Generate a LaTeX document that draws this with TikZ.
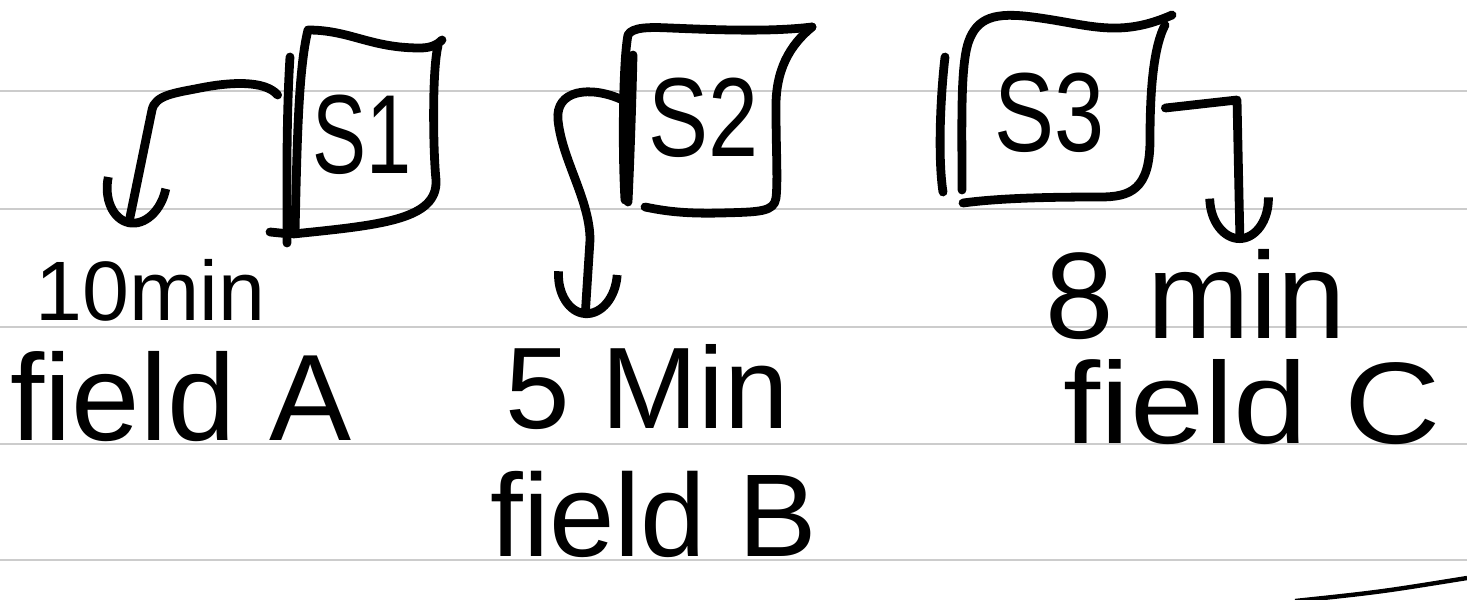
\documentclass[tikz,border=0pt]{standalone}
\usepackage{fontspec}
\setmainfont{Liberation Sans}
\usetikzlibrary{arrows.meta,calc}
\begin{document}
\begin{tikzpicture}[x=0.02cm,y=-0.02cm,
  rule/.style={draw=black!20,line width=1.6pt},
  ink/.style={line width=5pt,line cap=round,line join=round},
  conn/.style={ink,-{Arc Barb[length=9mm,width=13.5mm]}},
  sbox/.style={inner sep=0pt,font=\fontsize{64}{64}\selectfont},
  lbl/.style={inner sep=0pt,anchor=base west}]
\useasboundingbox (0,0) rectangle (1467,599);
\fill[white] (0,0) rectangle (1467,599);
% ruled lines
\foreach \y [count=\i] in {91,209,327,444,560}
  \draw[rule] (0,\y) coordinate (rl\i) -- (1467,\y) coordinate (rr\i);
% box nodes (outline drawn by hand below)
\node[sbox,minimum width=2.8cm,minimum height=3.9cm] (s1) at (362,135) {\scalebox{0.72}[1]{S1}};
\node[sbox,minimum width=3cm,minimum height=3.6cm] (s2) at (704,118) {\scalebox{0.8}[1]{S2}};
\node[sbox,minimum width=3.8cm,minimum height=3.64cm] (s3) at (1050,113) {\scalebox{0.8}[1]{S3}};
% box outlines S1
\draw[ink] (295,233) .. controls (297,150) and (298,70) .. (308,30)
  .. controls (350,30) and (370,48) .. (420,48) .. controls (432,48) and (438,44) .. (442,40);
\draw[ink] (438,46) .. controls (432,70) and (433,150) .. (436,180)
  .. controls (438,220) and (380,225) .. (293,234);
\draw[ink] (290,57) .. controls (286,120) and (287,200) .. (287,243);
\draw[ink] (270,232) -- (290,234);
% box outlines S2
\draw[ink] (625,200) .. controls (622,150) and (623,60) .. (628,35)
  .. controls (632,27) and (650,27) .. (670,28) .. controls (720,30) and (770,32) .. (812,27);
\draw[ink] (812,27) .. controls (790,45) and (775,70) .. (776,110)
  .. controls (776,150) and (778,180) .. (776,198)
  .. controls (774,212) and (760,212) .. (720,213) .. controls (680,214) and (660,210) .. (645,207);
\draw[ink] (633,55) .. controls (632,100) and (630,160) .. (628,202);
% box outlines S3
\draw[ink] (945,57) .. controls (940,100) and (938,160) .. (943,192);
\draw[ink] (962,190) .. controls (962,120) and (960,60) .. (970,38)
  .. controls (980,15) and (1000,12) .. (1040,18) .. controls (1090,25) and (1120,38) .. (1172,15);
\draw[ink] (1165,25) .. controls (1152,50) and (1150,100) .. (1150,140)
  .. controls (1150,190) and (1130,197) .. (1100,197)
  .. controls (1050,197) and (1000,198) .. (963,203);
% labels
\node[lbl,font=\fontsize{48}{48}\selectfont] (t1) at (35,320) {10min};
\node[lbl,font=\fontsize{70}{70}\selectfont] (f1) at (10,440) {field A};
\node[lbl,font=\fontsize{66}{66}\selectfont] (t2) at (505,428) {5 Min};
\node[lbl,font=\fontsize{67}{67}\selectfont] (f2) at (490,556) {field B};
\node[lbl,font=\fontsize{70}{70}\selectfont] (t3) at (1045,338) {8 min};
\node[lbl,font=\fontsize{66}{66}\selectfont] (f3) at (1063,443) {\scalebox{1.15}[1]{field C}};
% arrow ends
\coordinate (a1) at (128,227);
\coordinate (a2) at (585,318);
\coordinate (a3) at (1240,243);
% connectors
\draw[conn] ($(s1.west)+(-14,-40)$) .. controls (265,80) and (230,82) .. (200,88)
  .. controls (175,93) and (155,95) .. (152,110) -- (a1);
\draw[conn] ($(s2.west)+(-6,-18)$) .. controls (590,85) and (555,90) .. (558,120)
  .. controls (562,160) and (590,200) .. (590,240) -- (a2);
\draw[conn] ($(s3.east)+(20,-5)$) -- (1237,100) -- (a3);
% stroke at bottom right
\coordinate (b1) at (1295,601);
\coordinate (b2) at (1467,578);
\draw[line width=2.5pt] (b1) .. controls (1380,592) .. (b2);
\end{tikzpicture}
\end{document}
